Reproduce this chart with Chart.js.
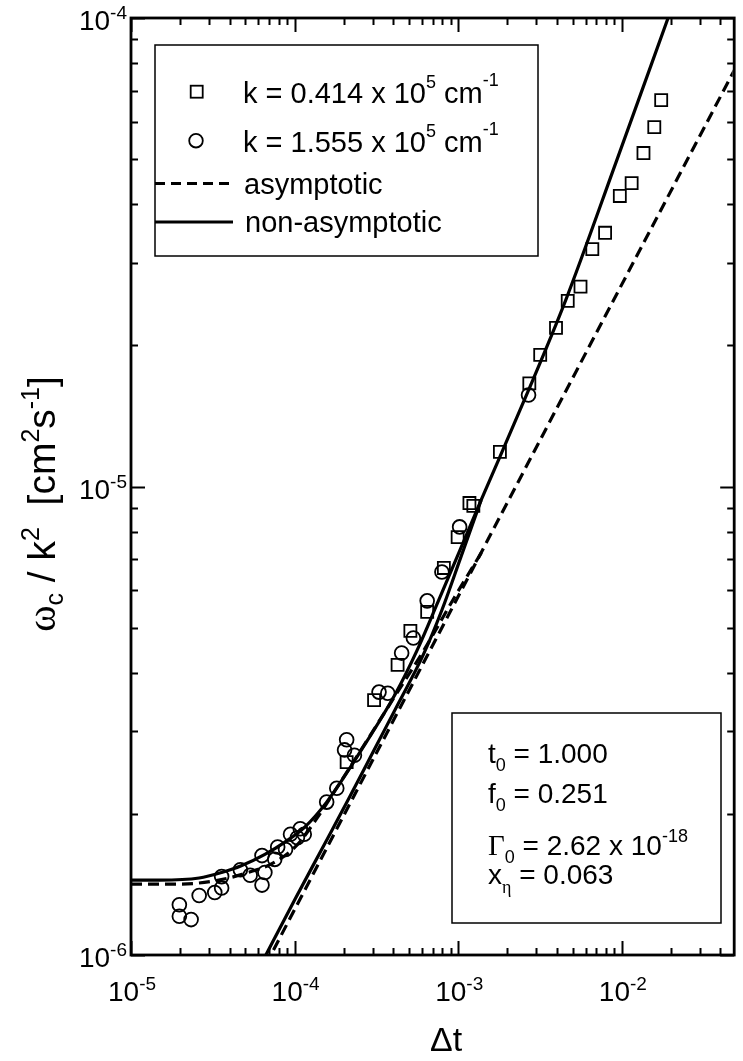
<!DOCTYPE html>
<html>
<head>
<meta charset="UTF-8">
<title>omega_c / k^2 x delta t</title>
<script src="https://cdn.jsdelivr.net/npm/chart.js"></script>
<style>
  html, body { margin: 0; padding: 0; background: #fff; }
  canvas { display: block; }
</style>
</head>
<body>
<canvas id="grafico" width="743" height="1061"></canvas>

<script>
  // k = 0.414 x 10^5 cm^-1 (quadrados)
  const quadX = [2.08e-4, 3.06e-4, 4.26e-4, 5.10e-4, 6.46e-4, 8.17e-4, 9.92e-4, 1.171e-3, 1.237e-3, 1.798e-3, 2.72e-3,
                 3.17e-3, 3.96e-3, 4.67e-3, 5.59e-3, 6.60e-3, 7.90e-3, 9.72e-3, 1.148e-2, 1.356e-2, 1.579e-2, 1.74e-2];
  const quadY = [2.58e-6, 3.50e-6, 4.16e-6, 4.92e-6, 5.40e-6, 6.70e-6, 7.80e-6, 9.22e-6, 9.09e-6, 1.185e-5, 1.66e-5,
                 1.91e-5, 2.18e-5, 2.49e-5, 2.67e-5, 3.21e-5, 3.48e-5, 4.17e-5, 4.44e-5, 5.15e-5, 5.85e-5, 6.68e-5];

  // k = 1.555 x 10^5 cm^-1 (circulos)
  const circX = [1.975e-5, 1.975e-5, 2.33e-5, 2.61e-5, 3.25e-5, 3.58e-5, 3.58e-5, 4.66e-5, 5.35e-5, 6.32e-5, 6.32e-5,
                 6.58e-5, 7.56e-5, 7.88e-5, 8.80e-5, 9.44e-5, 1.04e-4, 1.083e-4, 1.145e-4, 1.57e-4, 1.81e-4, 2.02e-4,
                 2.08e-4, 2.32e-4, 3.28e-4, 3.71e-4, 4.51e-4, 5.32e-4, 6.46e-4, 7.95e-4, 1.02e-3, 2.69e-3];
  const circY = [1.28e-6, 1.21e-6, 1.19e-6, 1.34e-6, 1.36e-6, 1.39e-6, 1.47e-6, 1.52e-6, 1.48e-6, 1.41e-6, 1.63e-6,
                 1.50e-6, 1.60e-6, 1.70e-6, 1.68e-6, 1.81e-6, 1.78e-6, 1.86e-6, 1.81e-6, 2.12e-6, 2.27e-6, 2.74e-6,
                 2.88e-6, 2.67e-6, 3.64e-6, 3.62e-6, 4.41e-6, 4.75e-6, 5.70e-6, 6.57e-6, 8.20e-6, 1.568e-5];

  // curvas tracejadas (asymptotic): com fundo e reta
  const assX = [1e-5, 1.975e-5, 3.44e-5, 5.20e-5, 7.36e-5, 1.04e-4, 1.371e-4, 1.938e-4, 2.82e-4, 4.15e-4, 6.28e-4,
                9.51e-4, 1.421e-3];
  const assY = [1.417e-6, 1.417e-6, 1.445e-6, 1.50e-6, 1.57e-6, 1.72e-6, 1.96e-6, 2.36e-6, 2.90e-6, 3.59e-6, 4.52e-6,
                5.81e-6, 7.33e-6];
  const assRetaX = [6.65e-5, 2.065e-3, 4.91e-2];
  const assRetaY = [9.52e-7, 9.45e-6, 7.78e-5];

  // curvas cheias (non-asymptotic): com fundo e sem fundo
  const naoX = [1e-5, 1.50e-5, 2.61e-5, 3.58e-5, 4.72e-5, 6.58e-5, 8.68e-5, 1.145e-4, 1.57e-4, 2.56e-4, 4.15e-4,
                5.62e-4, 7.52e-4, 1.382e-3, 2.506e-3, 4.54e-3, 9.33e-3, 1.917e-2];
  const naoY = [1.445e-6, 1.445e-6, 1.46e-6, 1.50e-6, 1.55e-6, 1.64e-6, 1.74e-6, 1.87e-6, 2.12e-6, 2.74e-6, 3.62e-6,
                4.48e-6, 5.67e-6, 9.36e-6, 1.515e-5, 2.50e-5, 4.98e-5, 1.0e-4];
  const naoRetaX = [6.20e-5, 1.011e-4, 1.531e-4, 2.164e-4, 3.06e-4, 4.32e-4, 6.11e-4, 7.95e-4, 1.034e-3, 1.382e-3];
  const naoRetaY = [9.52e-7, 1.32e-6, 1.73e-6, 2.17e-6, 2.74e-6, 3.45e-6, 4.37e-6, 5.45e-6, 7.04e-6, 9.36e-6];

  // expoentes dos rotulos dos eixos
  const xExps = [-5, -4, -3, -2];
  const yExps = [-6, -5, -4];

  const SANS = '"Liberation Sans", Arial, sans-serif';
  const SERIF = '"Liberation Serif", "Times New Roman", serif';

  function pts(xs, ys) {
    return xs.map((x, i) => ({ x: x, y: ys[i] }));
  }

  // desenha trechos de texto em sequencia: [texto, tamanho, deslocamento y, familia]
  function runs(ctx, x, y, partes) {
    let cx = x;
    partes.forEach(p => {
      ctx.font = p[1] + 'px ' + (p[3] || SANS);
      ctx.fillText(p[0], cx, y + (p[2] || 0));
      cx += ctx.measureText(p[0]).width;
    });
    return cx;
  }
  function runsWidth(ctx, partes) {
    let w = 0;
    partes.forEach(p => {
      ctx.font = p[1] + 'px ' + (p[3] || SANS);
      w += ctx.measureText(p[0]).width;
    });
    return w;
  }

  const moldura = {
    id: 'moldura',
    afterDraw(chart) {
      const ctx = chart.ctx;
      const a = chart.chartArea;
      const sx = chart.scales.x, sy = chart.scales.y;
      const right = a.right + 1.5;
      ctx.save();
      ctx.strokeStyle = '#000';
      ctx.fillStyle = '#000';
      ctx.textBaseline = 'alphabetic';
      ctx.lineCap = 'butt';

      // caixa dos eixos
      ctx.lineWidth = 2.8;
      ctx.strokeRect(a.left, a.top, right - a.left, a.bottom - a.top);

      // ticks para dentro
      ctx.lineWidth = 2;
      ctx.beginPath();
      xExps.forEach(e => {
        for (let m = 1; m <= 9; m++) {
          const v = m * Math.pow(10, e);
          if (v > sx.max * 1.0001) break;
          const px = Math.round(sx.getPixelForValue(v)) + 0.5;
          const len = m === 1 ? 14 : 7;
          ctx.moveTo(px, a.bottom); ctx.lineTo(px, a.bottom - len);
          ctx.moveTo(px, a.top); ctx.lineTo(px, a.top + len);
        }
      });
      yExps.forEach(e => {
        const top = e === yExps[yExps.length - 1] ? 1 : 9;
        for (let m = 1; m <= top; m++) {
          const v = m * Math.pow(10, e);
          const py = Math.round(sy.getPixelForValue(v)) + 0.5;
          const len = m === 1 ? 14 : 7;
          ctx.moveTo(a.left, py); ctx.lineTo(a.left + len, py);
          ctx.moveTo(right, py); ctx.lineTo(right - len, py);
        }
      });
      ctx.stroke();

      // rotulos dos ticks
      xExps.forEach(e => {
        const partes = [['10', 28, 0], [String(e), 19, -11]];
        const px = sx.getPixelForValue(Math.pow(10, e));
        const w = runsWidth(ctx, partes);
        runs(ctx, px - w / 2 + 1, 1001, partes);
      });
      yExps.forEach(e => {
        const partes = [['10', 28, 0], [String(e), 19, -11]];
        const py = sy.getPixelForValue(Math.pow(10, e));
        const w = runsWidth(ctx, partes);
        runs(ctx, 127 - w, py + 12, partes);
      });

      // titulos dos eixos
      const tx = [['\u0394t', 34, 0]];
      runs(ctx, 446 - runsWidth(ctx, tx) / 2, 1051, tx);

      const ty = [['\u03c9', 40, 0, SERIF], ['c', 25, 8], [' / k', 39, 0], ['2', 25, -16], ['  [cm', 39, 0],
                  ['2', 25, -16], ['s', 39, 0], ['-1', 25, -16], [']', 39, 0]];
      ctx.save();
      ctx.translate(55, 504);
      ctx.rotate(-Math.PI / 2);
      runs(ctx, -runsWidth(ctx, ty) / 2, 0, ty);
      ctx.restore();

      // legenda
      ctx.lineWidth = 1.5;
      ctx.strokeRect(155, 45, 383, 211);
      ctx.lineWidth = 1.8;
      ctx.strokeRect(196.7 - 6, 91.7 - 6, 12, 12);
      ctx.beginPath();
      ctx.arc(196, 140.7, 6.8, 0, Math.PI * 2);
      ctx.stroke();
      ctx.lineWidth = 3.2;
      ctx.setLineDash([10, 6]);
      ctx.beginPath(); ctx.moveTo(155, 183.5); ctx.lineTo(233, 183.5); ctx.stroke();
      ctx.setLineDash([]);
      ctx.beginPath(); ctx.moveTo(155, 222); ctx.lineTo(233, 222); ctx.stroke();

      runs(ctx, 243, 103, [['k = 0.414 x 10', 29], ['5', 18, -15], [' cm', 29], ['-1', 18, -17]]);
      runs(ctx, 243, 152, [['k = 1.555 x 10', 29], ['5', 18, -15], [' cm', 29], ['-1', 18, -17]]);
      runs(ctx, 244, 194, [['asymptotic', 29]]);
      runs(ctx, 245, 232, [['non-asymptotic', 29]]);

      // caixa de parametros
      ctx.lineWidth = 1.5;
      ctx.strokeRect(452, 713, 269, 210);
      runs(ctx, 488, 763, [['t', 28], ['0', 18, 8], [' = 1.000', 28]]);
      runs(ctx, 488, 803, [['f', 28], ['0', 18, 8], [' = 0.251', 28]]);
      runs(ctx, 488, 855, [['\u0393', 29, 0, SERIF], ['0', 18, 8], [' = 2.62 x 10', 28], ['-18', 18, -13]]);
      runs(ctx, 488, 884, [['x', 28], ['\u03b7', 18, 9, SERIF], [' = 0.063', 28]]);

      ctx.restore();
    }
  };

  function linha(dados, tracejada) {
    return {
      data: dados,
      showLine: true,
      borderColor: '#000',
      borderWidth: 3.2,
      borderDash: tracejada ? [11, 6] : [],
      pointRadius: 0,
      cubicInterpolationMode: 'monotone',
      fill: false
    };
  }

  const config = {
    type: 'scatter',
    data: {
      datasets: [
        {
          data: pts(quadX, quadY),
          pointStyle: 'rect',
          pointRadius: 8.5,
          borderColor: '#000',
          backgroundColor: 'rgba(0,0,0,0)',
          borderWidth: 1.8
        },
        {
          data: pts(circX, circY),
          pointStyle: 'circle',
          pointRadius: 6.9,
          borderColor: '#000',
          backgroundColor: 'rgba(0,0,0,0)',
          borderWidth: 1.8
        },
        linha(pts(assX, assY), true),
        linha(pts(assRetaX, assRetaY), true),
        linha(pts(naoX, naoY), false),
        linha(pts(naoRetaX, naoRetaY), false)
      ]
    },
    options: {
      responsive: false,
      animation: false,
      devicePixelRatio: 1,
      events: [],
      layout: { padding: { left: 131, top: 18, right: 0, bottom: 106 } },
      plugins: { legend: { display: false }, tooltip: { enabled: false } },
      scales: {
        x: { type: 'logarithmic', min: 1e-5, max: 0.0476, display: false },
        y: { type: 'logarithmic', min: 1e-6, max: 1e-4, display: false }
      }
    },
    plugins: [moldura]
  };

  new Chart(document.getElementById('grafico'), config);
</script>
</body>
</html>
